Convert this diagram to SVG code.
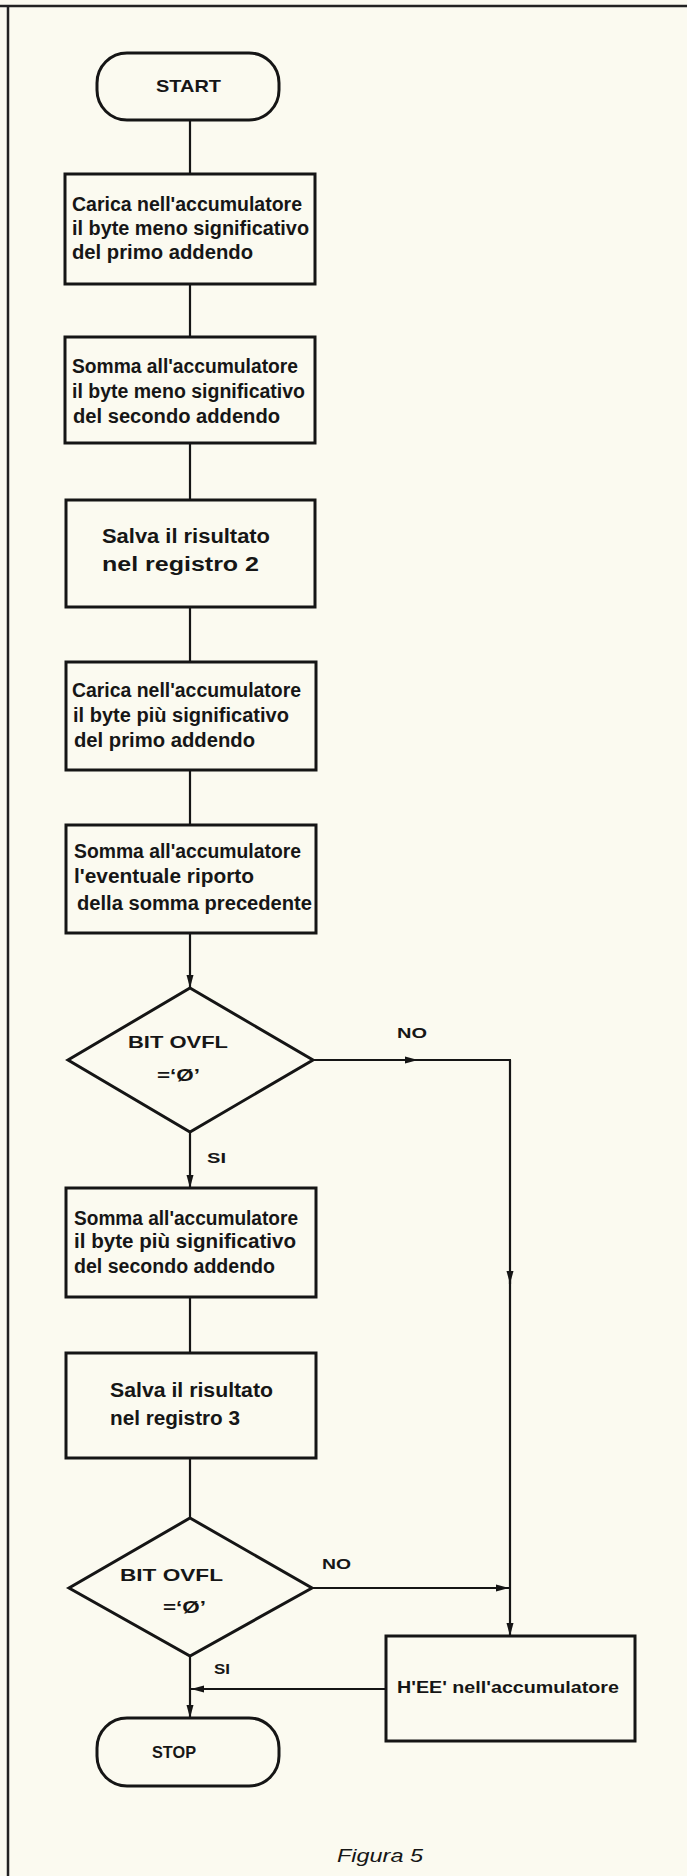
<svg xmlns="http://www.w3.org/2000/svg" width="687" height="1876" viewBox="0 0 687 1876">
<style>
.bg{fill:#fbfaf0}
.frame{stroke:#222;stroke-width:2.5;fill:none}
.box{fill:#fbfaf0;stroke:#151515;stroke-width:3}
.c{stroke:#151515;stroke-width:2.2;fill:none}
.ca{stroke:#151515;stroke-width:2.2;fill:none;marker-end:url(#ah)}
text{font-family:"Liberation Sans",Arial,sans-serif;fill:#161616;font-weight:bold}
.t{font-size:20px}
.s{font-size:17px}
.l{font-size:15px}
.cap{font-size:19px;font-style:italic;font-weight:normal}
</style>
<defs>
<marker id="ah" markerUnits="userSpaceOnUse" markerWidth="14" markerHeight="8" refX="13" refY="4" orient="auto">
<path d="M0,0.5 L13,4 L0,7.5 z" fill="#151515"/>
</marker>
</defs>
<rect class="bg" x="0" y="0" width="687" height="1876"/>
<g id="frame">
<line class="frame" x1="0" y1="6" x2="687" y2="6"/>
<line class="frame" x1="8" y1="6" x2="8" y2="1876"/>
</g>
<g id="connectors">
<line class="c" x1="190" y1="120" x2="190" y2="174"/>
<line class="c" x1="190" y1="284" x2="190" y2="337"/>
<line class="c" x1="190" y1="443" x2="190" y2="500"/>
<line class="c" x1="190" y1="607" x2="190" y2="662"/>
<line class="c" x1="190" y1="770" x2="190" y2="825"/>
<line class="ca" x1="190" y1="933" x2="190" y2="988"/>
<line class="ca" x1="190" y1="1132" x2="190" y2="1188"/>
<line class="ca" x1="313" y1="1060" x2="418" y2="1060"/>
<line class="c" x1="414" y1="1060" x2="511" y2="1060"/>
<line class="ca" x1="510" y1="1060" x2="510" y2="1284"/>
<line class="ca" x1="510" y1="1280" x2="510" y2="1636"/>
<line class="c" x1="190" y1="1297" x2="190" y2="1353"/>
<line class="c" x1="190" y1="1458" x2="190" y2="1518"/>
<line class="ca" x1="312" y1="1588" x2="509" y2="1588"/>
<line class="ca" x1="190" y1="1656" x2="190" y2="1718"/>
<line class="ca" x1="386" y1="1689" x2="191" y2="1689"/>
</g>
<g id="start">
<rect class="box" x="97" y="53" width="182" height="67" rx="30"/>
<text class="s" x="156" y="92" textLength="65" lengthAdjust="spacingAndGlyphs">START</text>
</g>
<g id="box1">
<rect class="box" x="65" y="174" width="250" height="110"/>
<text class="t" x="72" y="211" textLength="230" lengthAdjust="spacingAndGlyphs">Carica nell'accumulatore</text>
<text class="t" x="72" y="235" textLength="237" lengthAdjust="spacingAndGlyphs">il byte meno significativo</text>
<text class="t" x="72" y="259" textLength="181" lengthAdjust="spacingAndGlyphs">del primo addendo</text>
</g>
<g id="box2">
<rect class="box" x="65" y="337" width="250" height="106"/>
<text class="t" x="72" y="373" textLength="226" lengthAdjust="spacingAndGlyphs">Somma all'accumulatore</text>
<text class="t" x="72" y="398" textLength="233" lengthAdjust="spacingAndGlyphs">il byte meno significativo</text>
<text class="t" x="73" y="423" textLength="207" lengthAdjust="spacingAndGlyphs">del secondo addendo</text>
</g>
<g id="box3">
<rect class="box" x="66" y="500" width="249" height="107"/>
<text class="t" x="102" y="543" textLength="168" lengthAdjust="spacingAndGlyphs">Salva il risultato</text>
<text class="t" x="102" y="571" textLength="157" lengthAdjust="spacingAndGlyphs">nel registro 2</text>
</g>
<g id="box4">
<rect class="box" x="66" y="662" width="250" height="108"/>
<text class="t" x="72" y="697" textLength="229" lengthAdjust="spacingAndGlyphs">Carica nell'accumulatore</text>
<text class="t" x="73" y="722" textLength="216" lengthAdjust="spacingAndGlyphs">il byte più significativo</text>
<text class="t" x="74" y="747" textLength="181" lengthAdjust="spacingAndGlyphs">del primo addendo</text>
</g>
<g id="box5">
<rect class="box" x="66" y="825" width="250" height="108"/>
<text class="t" x="74" y="858" textLength="227" lengthAdjust="spacingAndGlyphs">Somma all'accumulatore</text>
<text class="t" x="74" y="883" textLength="180" lengthAdjust="spacingAndGlyphs">l'eventuale riporto</text>
<text class="t" x="77" y="910" textLength="235" lengthAdjust="spacingAndGlyphs">della somma precedente</text>
</g>
<g id="decision1">
<polygon class="box" points="190,988 313,1060 190,1132 68,1060"/>
<text class="s" x="128" y="1048" textLength="100" lengthAdjust="spacingAndGlyphs">BIT OVFL</text>
<text class="s" x="157" y="1081" textLength="43" lengthAdjust="spacingAndGlyphs">=‘Ø’</text>
<text class="l" x="397" y="1038" textLength="30" lengthAdjust="spacingAndGlyphs">NO</text>
<text class="l" x="207" y="1163" textLength="19" lengthAdjust="spacingAndGlyphs">SI</text>
</g>
<g id="box6">
<rect class="box" x="66" y="1188" width="250" height="109"/>
<text class="t" x="74" y="1225" textLength="224" lengthAdjust="spacingAndGlyphs">Somma all'accumulatore</text>
<text class="t" x="74" y="1248" textLength="222" lengthAdjust="spacingAndGlyphs">il byte più significativo</text>
<text class="t" x="74" y="1273" textLength="201" lengthAdjust="spacingAndGlyphs">del secondo addendo</text>
</g>
<g id="box7">
<rect class="box" x="66" y="1353" width="250" height="105"/>
<text class="t" x="110" y="1397" textLength="163" lengthAdjust="spacingAndGlyphs">Salva il risultato</text>
<text class="t" x="110" y="1425" textLength="130" lengthAdjust="spacingAndGlyphs">nel registro 3</text>
</g>
<g id="decision2">
<polygon class="box" points="190,1518 312,1588 190,1656 69,1588"/>
<text class="s" x="120" y="1581" textLength="103" lengthAdjust="spacingAndGlyphs">BIT OVFL</text>
<text class="s" x="163" y="1613" textLength="43" lengthAdjust="spacingAndGlyphs">=‘Ø’</text>
<text class="l" x="322" y="1569" textLength="29" lengthAdjust="spacingAndGlyphs">NO</text>
<text class="l" x="214" y="1674" textLength="16" lengthAdjust="spacingAndGlyphs">SI</text>
</g>
<g id="box8">
<rect class="box" x="386" y="1636" width="249" height="105"/>
<text class="s" x="397" y="1693" textLength="222" lengthAdjust="spacingAndGlyphs">H'EE' nell'accumulatore</text>
</g>
<g id="stop">
<rect class="box" x="97" y="1718" width="182" height="68" rx="30"/>
<text class="s" x="152" y="1758" textLength="44" lengthAdjust="spacingAndGlyphs">STOP</text>
</g>
<g id="caption">
<text class="cap" x="337" y="1862" textLength="86" lengthAdjust="spacingAndGlyphs">Figura 5</text>
</g>
</svg>
